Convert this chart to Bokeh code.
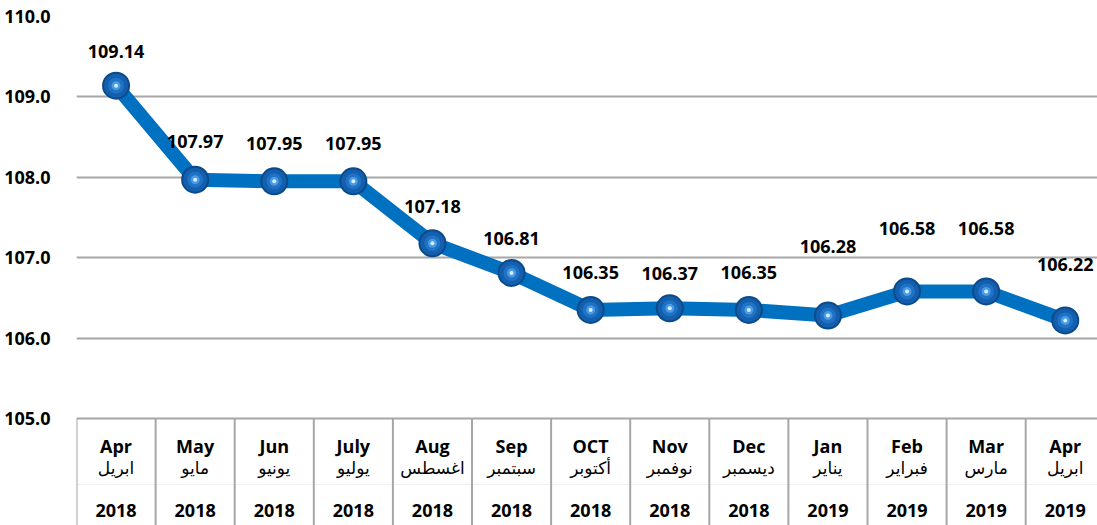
from bokeh.plotting import figure
from bokeh.models import ColumnDataSource, FixedTicker, CustomJSTickFormatter, Text
from bokeh.core.properties import value
from bokeh.embed import file_html
from bokeh.resources import INLINE

# ---- data ----
months_en = ["Apr", "May", "Jun", "July", "Aug", "Sep", "OCT", "Nov", "Dec", "Jan", "Feb", "Mar", "Apr"]
months_ar = ["ابريل", "مايو", "يونيو", "يوليو", "اغسطس", "سبتمبر", "أكتوبر", "نوفمبر", "ديسمبر", "يناير", "فبراير", "مارس", "ابريل"]
years = ["2018", "2018", "2018", "2018", "2018", "2018", "2018", "2018", "2018", "2019", "2019", "2019", "2019"]
index_values = [109.14, 107.97, 107.95, 107.95, 107.18, 106.81, 106.35, 106.37, 106.35, 106.28, 106.58, 106.58, 106.22]
y_ticks = [105, 106, 107, 108, 109, 110]

# label offsets above points (pixels, negative = upward)
label_offsets = [-34, -38, -38, -38, -37, -34, -37, -35, -37, -69, -63, -63, -56]

n = len(index_values)
xs = list(range(n))
src = ColumnDataSource(dict(
    x=xs, y=index_values,
    lbl=[f"{v:.2f}" for v in index_values],
    off=label_offsets,
    en=months_en, ar=months_ar, yr=years,
))

FONT = "Open Sans"
Y_BOTTOM = 103.669
X_END = -0.5 + 1021 / 79.1

p = figure(width=1097, height=525, output_backend="svg", toolbar_location=None,
           x_range=(-0.5, X_END), y_range=(Y_BOTTOM, 110.0),
           min_border_left=76, min_border_right=0, min_border_top=16, min_border_bottom=0)
p.outline_line_color = None
p.background_fill_color = "white"
p.border_fill_color = "white"

p.xaxis.visible = False
p.xgrid.visible = False
p.ygrid.ticker = FixedTicker(ticks=[t for t in y_ticks if t > 105])
p.ygrid.grid_line_color = "#a6a6a6"
p.ygrid.grid_line_width = 2

ya = p.yaxis[0]
ya.ticker = FixedTicker(ticks=y_ticks)
ya.axis_line_color = None
ya.major_tick_line_color = None
ya.minor_tick_line_color = None
ya.major_label_text_font = FONT
ya.major_label_text_font_style = "bold"
ya.major_label_text_font_size = "18px"
ya.major_label_text_color = "black"
ya.major_label_standoff = 20
ya.formatter = CustomJSTickFormatter(code="return tick.toFixed(1);")

# ---- table at the bottom ----
edges = [i - 0.5 for i in range(n + 1)]
p.segment(x0=[-0.5], y0=[104.18], x1=[n - 0.5], y1=[104.18], line_color="#eeeeee", line_width=1)
p.segment(x0=[-0.5], y0=[105], x1=[n - 0.5], y1=[105], line_color="#a6a6a6", line_width=2)
p.segment(x0=edges, y0=[105] * len(edges), x1=edges, y1=[Y_BOTTOM] * len(edges),
          line_color="#a6a6a6", line_width=2)

p.text(x="x", y=104.664, text="en", source=src, text_font=value(FONT), text_font_style="bold",
       text_font_size="18px", text_align="center", text_baseline="middle", text_color="black")
p.text(x="x", y=104.378, text="ar", source=src, text_font=value("DejaVu Sans"),
       text_font_size="17px", text_align="center", text_baseline="middle", text_color="black")
p.text(x="x", y=103.856, text="yr", source=src, text_font=value(FONT), text_font_style="bold",
       text_font_size="18px", text_align="center", text_baseline="middle", text_color="black")

# ---- line and markers ----
p.line(x="x", y="y", source=src, line_color="#0070C0", line_width=14, line_join="round")
p.scatter(x="x", y="y", source=src, size=28, fill_color="#0b4a8a", line_color=None)
p.scatter(x="x", y="y", source=src, size=24, fill_color="#135fae", line_color=None)
p.scatter(x="x", y="y", source=src, size=16, fill_color="#1f72c4", line_color=None)
p.scatter(x="x", y="y", source=src, size=9, fill_color="#4a9be2", line_color=None)
p.scatter(x="x", y="y", source=src, size=4, fill_color="#d6ecff", line_color=None)

lbl_glyph = Text(x="x", y="y", text="lbl", y_offset="off", text_font=value(FONT),
                 text_font_style="bold", text_font_size="18px", text_align="center",
                 text_baseline="middle", text_color="black")
p.add_glyph(src, lbl_glyph)

open("out.html", "w").write(file_html(p, INLINE))
